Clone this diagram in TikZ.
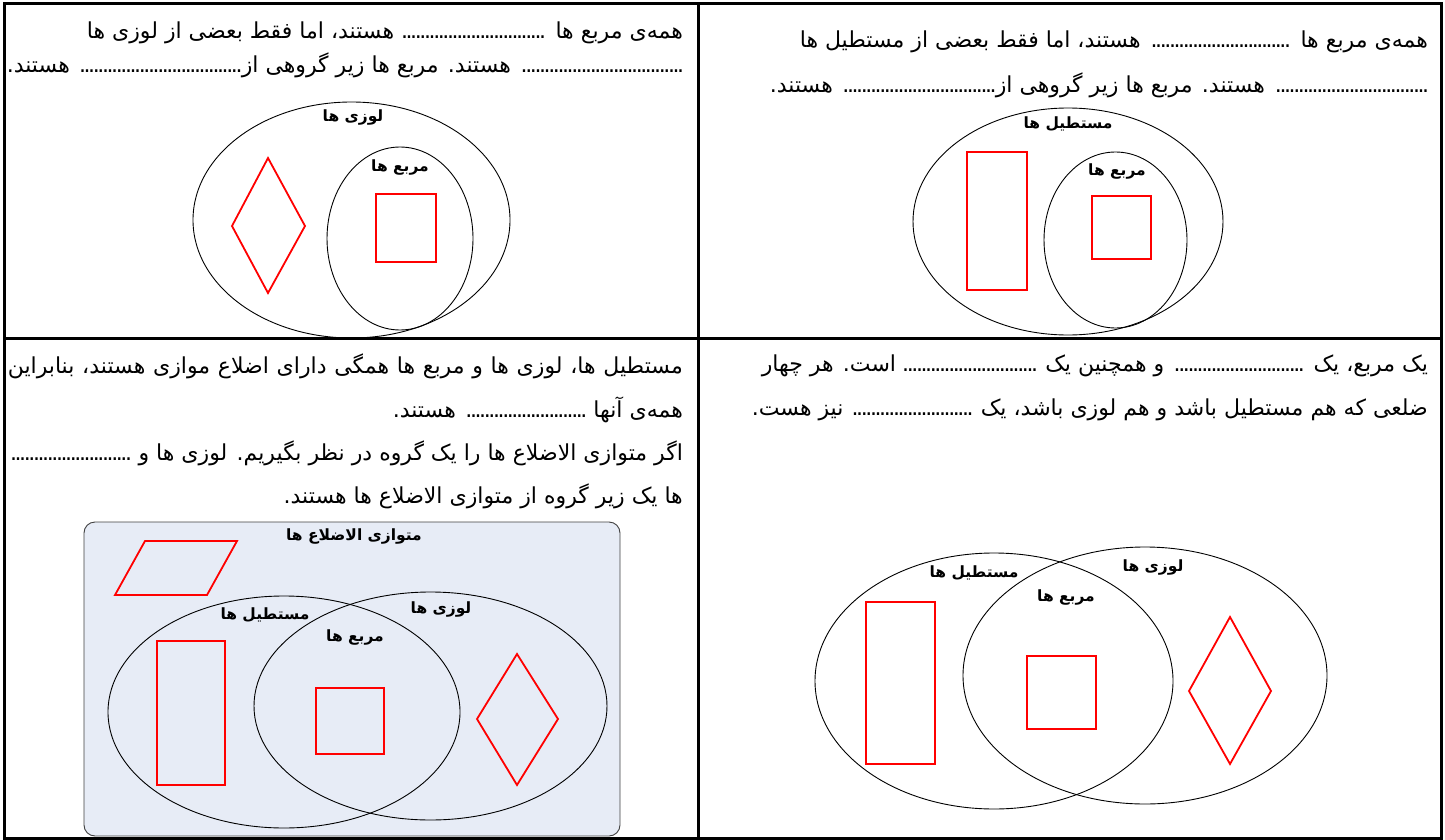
\documentclass[tikz,border=0pt]{standalone}
\usepackage{fontspec}
\TeXXeTstate=1
\newfontfamily\fa[Script=Arabic]{DejaVu Sans}
\definecolor{panelbg}{RGB}{231,236,246}
\newcommand\dfill{\leaders\hbox to 4.6pt{\hss.\hss}\hfill}
\begin{document}
\begin{tikzpicture}[x=1pt,y=-1pt,
  txt/.style={anchor=east,inner sep=0pt,font=\fa\fontsize{22}{26}\selectfont},
  lbl/.style={inner sep=0pt,font=\fa\bfseries\fontsize{15.5}{18}\selectfont},
  venn/.style={draw=black,line width=0.9pt},
  redshape/.style={draw=red,line width=1.8pt,line join=miter},
  grid/.style={draw=black,line width=3pt}]
\useasboundingbox (0,0) rectangle (1445,840);
% ---------- top-left panel ----------
\node[txt] (tl1) at (683,33) {\hbox to 596pt{\beginR همه^^^^200cی مربع ها \dfill{} هستند، اما فقط بعضی از لوزی ها\endR}};
\node[txt] (tl2) at (683,65) {\hbox to 676pt{\beginR \dfill{} هستند. مربع ها زیر گروهی از\dfill{} هستند.\endR}};
\draw[venn] (351.5,220) ellipse [x radius=158.5,y radius=118];
\draw[venn] (400,238.5) ellipse [x radius=73,y radius=91.5];
\draw[redshape] (268,158) -- (305,226) -- (268,293) -- (232,226) -- cycle;
\draw[redshape] (376,194) rectangle (436,262);
\node[lbl] (tlLoz) at (353,118) {\beginR لوزی ها\endR};
\node[lbl] (tlSq) at (400,168) {\beginR مربع ها\endR};
% ---------- top-right panel ----------
\node[txt] (tr1) at (1428,42) {\hbox to 628pt{\beginR همه^^^^200cی مربع ها \dfill{} هستند، اما فقط بعضی از مستطیل ها\endR}};
\node[txt] (tr2) at (1428,85) {\hbox to 658pt{\beginR \dfill{} هستند. مربع ها زیر گروهی از\dfill{} هستند.\endR}};
\draw[venn] (1068,221.5) ellipse [x radius=155,y radius=113.5];
\draw[venn] (1115.5,240) ellipse [x radius=71.5,y radius=88];
\draw[redshape] (967,152) rectangle (1027,290);
\draw[redshape] (1092,196) rectangle (1151,259);
\node[lbl] (trRect) at (1068,124) {\beginR مستطیل ها\endR};
\node[lbl] (trSq) at (1117,172) {\beginR مربع ها\endR};
% ---------- bottom-left panel ----------
\node[txt] (bl1) at (683,366) {\hbox to 675pt{\beginR مستطیل ها، لوزی ها و مربع ها همگی دارای اضلاع موازی هستند، بنابراین\endR}};
\node[txt] (bl2) at (683,410) {\hbox to 290pt{\beginR همه^^^^200cی آنها \dfill{} هستند.\endR}};
\node[txt] (bl3) at (683,453) {\hbox to 675pt{\beginR اگر متوازی الاضلاع ها را یک گروه در نظر بگیریم. لوزی ها و \dfill\endR}};
\node[txt] (bl4) at (683,496) {\hbox{\beginR ها یک زیر گروه از متوازی الاضلاع ها هستند.\endR}};
\draw[draw=black!75,line width=0.9pt,fill=panelbg,rounded corners=11pt] (84,522) rectangle (620,836);
\draw[venn] (284,712) ellipse [x radius=176,y radius=116];
\draw[venn] (430.5,706) ellipse [x radius=176.5,y radius=114];
\draw[redshape] (145,541) -- (237,541) -- (207,595) -- (115,595) -- cycle;
\draw[redshape] (157,641) rectangle (225,785);
\draw[redshape] (316,688) rectangle (384,754);
\draw[redshape] (517,654) -- (558,719) -- (517,785) -- (477,719) -- cycle;
\node[lbl] (blPar) at (354,536) {\beginR متوازی الاضلاع ها\endR};
\node[lbl] (blRect) at (265,615) {\beginR مستطیل ها\endR};
\node[lbl] (blLoz) at (441,609) {\beginR لوزی ها\endR};
\node[lbl] (blSq) at (355,637) {\beginR مربع ها\endR};
% ---------- bottom-right panel ----------
\node[txt] (br1) at (1428,366) {\hbox to 666pt{\beginR یک مربع، یک \dfill{} و همچنین یک \dfill{} است. هر چهار\endR}};
\node[txt] (br2) at (1428,410) {\hbox to 676pt{\beginR ضلعی که هم مستطیل باشد و هم لوزی باشد، یک \dfill{} نیز هست.\endR}};
\draw[venn] (994,681) ellipse [x radius=179,y radius=128];
\draw[venn] (1145,675.5) ellipse [x radius=182,y radius=128.5];
\draw[redshape] (866,602) rectangle (935,764);
\draw[redshape] (1027,656) rectangle (1096,729);
\draw[redshape] (1230,617) -- (1271,691) -- (1230,764) -- (1189,691) -- cycle;
\node[lbl] (brRect) at (974,573) {\beginR مستطیل ها\endR};
\node[lbl] (brLoz) at (1153,567) {\beginR لوزی ها\endR};
\node[lbl] (brSq) at (1066,597) {\beginR مربع ها\endR};
% ---------- table grid ----------
\draw[grid] (4,4) rectangle (1441,838);
\draw[grid] (698,4) -- (698,838);
\draw[grid] (4,338) -- (1441,338);
\end{tikzpicture}
\end{document}
